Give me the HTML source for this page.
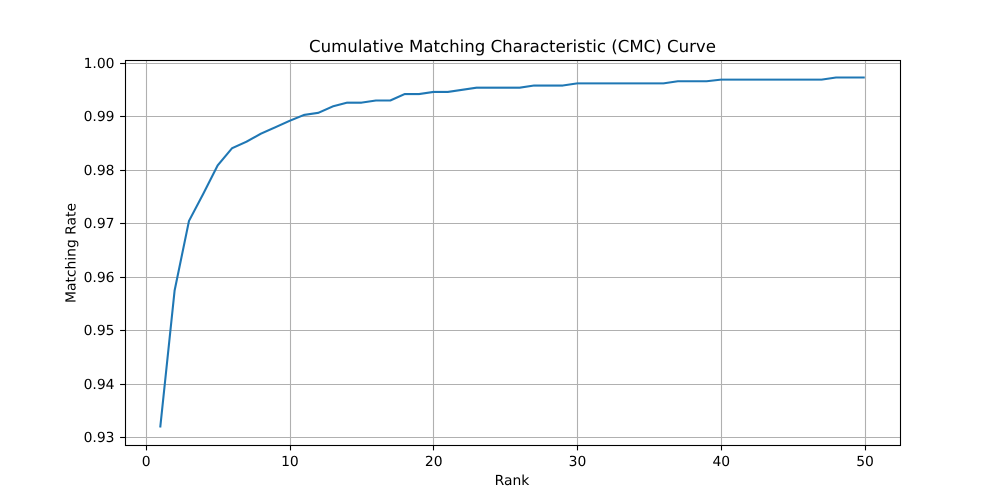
<!DOCTYPE html>
<html>
<head>
<meta charset="utf-8">
<title>CMC Curve</title>
<style>
html,body{margin:0;padding:0;background:#fff;}
svg{display:block;}
text{font-family:"DejaVu Sans",sans-serif;fill:#000;text-rendering:geometricPrecision;}
</style>
</head>
<body>
<svg id="chart" xmlns="http://www.w3.org/2000/svg" width="1000" height="500" viewBox="0 0 1000 500">
  <rect x="0" y="0" width="1000" height="500" fill="#ffffff"/>
  <g id="grid"></g>
  <g id="series"></g>
  <rect x="125.5" y="60.5" width="775" height="385" fill="none" stroke="#000" stroke-width="1.1"/>
  <g id="ticks"></g>
  <text x="512.5" y="52" font-size="16.6" text-anchor="middle">Cumulative Matching Characteristic (CMC) Curve</text>
  <text x="512" y="485" font-size="13.89" text-anchor="middle">Rank</text>
  <text transform="translate(75.5 253) rotate(-90)" font-size="13.89" text-anchor="middle">Matching Rate</text>
</svg>
<script>
const ranks = [1,2,3,4,5,6,7,8,9,10,11,12,13,14,15,16,17,18,19,20,21,22,23,24,25,26,27,28,29,30,31,32,33,34,35,36,37,38,39,40,41,42,43,44,45,46,47,48,49,50];
const matchingRate = [0.9319,0.9575,0.9705,0.9756,0.9809,0.9841,0.9853,0.9868,0.9880,0.9892,0.9903,0.9907,0.9919,0.9926,0.9926,0.9930,0.9930,0.9942,0.9942,0.9946,0.9946,0.9950,0.9954,0.9954,0.9954,0.9954,0.9958,0.9958,0.9958,0.9962,0.9962,0.9962,0.9962,0.9962,0.9962,0.9962,0.9966,0.9966,0.9966,0.9969,0.9969,0.9969,0.9969,0.9969,0.9969,0.9969,0.9969,0.9973,0.9973,0.9973];
const xTickValues = [0,10,20,30,40,50];
const yTickValues = [0.93,0.94,0.95,0.96,0.97,0.98,0.99,1.00];

const NS = 'http://www.w3.org/2000/svg';
const plot = {left:125, right:900, top:60, bottom:445};
const xMin = Math.min(...ranks), xMax = Math.max(...ranks);
const yMin = Math.min(...matchingRate), yMax = Math.max(...matchingRate);
const xPad = (xMax - xMin) * 0.05, yPad = (yMax - yMin) * 0.05;
function xScale(v){ return plot.left + (v - (xMin - xPad)) / ((xMax + xPad) - (xMin - xPad)) * (plot.right - plot.left); }
function yScale(v){ return plot.bottom - (v - (yMin - yPad)) / ((yMax + yPad) - (yMin - yPad)) * (plot.bottom - plot.top); }
function snapX(p){ return Math.round(p) + 0.5; }
function snapY(p){ return Math.floor(p) + 0.5; }
function make(tag, attrs, parent){
  const el = document.createElementNS(NS, tag);
  for (const k in attrs) el.setAttribute(k, attrs[k]);
  parent.appendChild(el);
  return el;
}
const gridG = document.getElementById('grid');
const ticksG = document.getElementById('ticks');
const seriesG = document.getElementById('series');

xTickValues.forEach(function(v){
  const x = snapX(xScale(v));
  const g = make('line', {x1:x, x2:x, y1:plot.top, y2:plot.bottom, stroke:'#b0b0b0', 'stroke-width':1.1}, gridG);
  
  
  const t = make('line', {x1:x, x2:x, y1:plot.bottom, y2:plot.bottom + 5.4, stroke:'#000', 'stroke-width':1.1}, ticksG);
  
  
  const l = make('text', {x:xScale(v) + 0.3, y:plot.bottom + 21, 'font-size':13.89, 'text-anchor':'middle'}, ticksG);
  
  
  l.textContent = String(v);
});
yTickValues.forEach(function(v){
  const y = snapY(yScale(v));
  const g = make('line', {x1:plot.left, x2:plot.right, y1:y, y2:y, stroke:'#b0b0b0', 'stroke-width':1.1}, gridG);
  
  
  const t = make('line', {x1:plot.left - 4.9, x2:plot.left, y1:y, y2:y, stroke:'#000', 'stroke-width':1.1}, ticksG);
  
  
  const l = make('text', {x:plot.left - 10.5, y:y + 4.5, 'font-size':13.89, 'text-anchor':'end'}, ticksG);
  
  
  l.textContent = v.toFixed(2);
});
const pts = ranks.map(function(r, i){ return xScale(r).toFixed(2) + ',' + yScale(matchingRate[i]).toFixed(2); }).join(' ');
const line = make('polyline', {points:pts, fill:'none', stroke:'#1f77b4', 'stroke-width':2.08, 'stroke-linejoin':'round', 'stroke-linecap':'butt'}, seriesG);


</script>
</body>
</html>
